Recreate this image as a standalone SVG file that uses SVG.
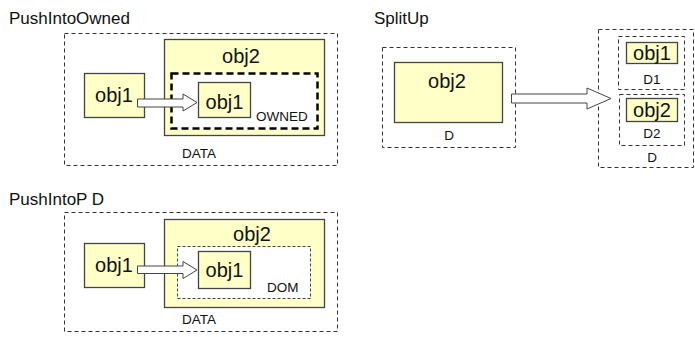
<svg xmlns="http://www.w3.org/2000/svg" width="695" height="337" viewBox="0 0 695 337">
  <style>
    .title { font-family: "Liberation Sans", Arial, sans-serif; font-size: 17px; fill: #111; }
    .obj { font-family: "Liberation Sans", Arial, sans-serif; font-size: 20px; fill: #111; }
    .lbl { font-family: "Liberation Sans", Arial, sans-serif; font-size: 13.5px; fill: #111; }
    .frame { fill: none; stroke: #333; stroke-width: 1; stroke-dasharray: 4 3; }
    .box { fill: #ffffc8; stroke: #444; stroke-width: 1.3; }
    .owned { fill: #fff; stroke: #000; stroke-width: 2.5; stroke-dasharray: 7 4; }
    .dom { fill: #fff; stroke: #444; stroke-width: 1; stroke-dasharray: 3 2; }
    .arrow { fill: #fff; stroke: #444; stroke-width: 1; }
  </style>

  <!-- PushIntoOwned -->
  <text class="title" x="9" y="24">PushIntoOwned</text>
  <g id="data1">
    <rect class="frame" x="64.5" y="33.5" width="273" height="132"/>
    <text class="lbl" x="182" y="158">DATA</text>
  </g>
  <g id="obj2-owned">
    <rect class="box" x="164.5" y="39.5" width="160" height="96"/>
    <text class="obj" x="241" y="63" text-anchor="middle">obj2</text>
  </g>
  <g id="owned">
    <rect class="owned" x="171.5" y="73.5" width="146" height="55"/>
    <text class="lbl" x="256" y="121">OWNED</text>
  </g>
  <g id="obj1-inner-owned">
    <rect class="box" x="198.5" y="82.5" width="52" height="35"/>
    <text class="obj" x="224.5" y="109" text-anchor="middle">obj1</text>
  </g>
  <g id="obj1-src-owned">
    <rect class="box" x="84.5" y="73.5" width="60" height="44"/>
    <text class="obj" x="114" y="102" text-anchor="middle">obj1</text>
  </g>

  <!-- SplitUp -->
  <text class="title" x="374" y="24">SplitUp</text>
  <g id="d-src">
    <rect class="frame" x="382.5" y="47.5" width="133" height="100"/>
    <text class="lbl" x="449" y="140" text-anchor="middle">D</text>
  </g>
  <g id="obj2-src">
    <rect class="box" x="394.5" y="62.5" width="108" height="60"/>
    <text class="obj" x="447" y="88" text-anchor="middle">obj2</text>
  </g>
  <g id="d-dst">
    <rect class="frame" x="598.5" y="29.5" width="95" height="138"/>
    <text class="lbl" x="652" y="162" text-anchor="middle">D</text>
  </g>
  <g id="d1">
    <rect class="frame" x="618.5" y="36.5" width="66" height="53"/>
    <text class="lbl" x="652" y="84" text-anchor="middle">D1</text>
  </g>
  <g id="obj1-split">
    <rect class="box" x="626.5" y="42.5" width="51" height="21"/>
    <text class="obj" x="652" y="60" text-anchor="middle">obj1</text>
  </g>
  <g id="d2">
    <rect class="frame" x="619.5" y="94.5" width="65" height="51"/>
    <text class="lbl" x="652" y="138" text-anchor="middle">D2</text>
  </g>
  <g id="obj2-split">
    <rect class="box" x="626.5" y="98.5" width="51" height="23"/>
    <text class="obj" x="652" y="117" text-anchor="middle">obj2</text>
  </g>

  <!-- PushIntoPD -->
  <text class="title" x="9" y="205">PushIntoP D</text>
  <g id="data3">
    <rect class="frame" x="64.5" y="212.5" width="273" height="119"/>
    <text class="lbl" x="182" y="324">DATA</text>
  </g>
  <g id="obj2-pd">
    <rect class="box" x="164.5" y="219.5" width="160" height="88"/>
    <text class="obj" x="252" y="241" text-anchor="middle">obj2</text>
  </g>
  <g id="dom">
    <rect class="dom" x="177.5" y="246.5" width="133" height="52"/>
    <text class="lbl" x="267" y="292">DOM</text>
  </g>
  <g id="obj1-inner-pd">
    <rect class="box" x="198.5" y="251.5" width="52" height="37"/>
    <text class="obj" x="224.5" y="277" text-anchor="middle">obj1</text>
  </g>
  <g id="obj1-src-pd">
    <rect class="box" x="84.5" y="243.5" width="60" height="44"/>
    <text class="obj" x="114" y="272" text-anchor="middle">obj1</text>
  </g>

  <!-- block arrows -->
  <g id="connectors">
    <polygon class="arrow" points="137.5,99 183,99 183,94 197,102.5 183,111 183,107 137.5,107"/>
    <polygon class="arrow" points="511.5,94 587,94 587,88 611,98.5 587,109 587,103 511.5,103"/>
    <polygon class="arrow" points="137.5,266 183,266 183,261.5 197,270 183,278.5 183,273.5 137.5,273.5"/>
  </g>
</svg>
